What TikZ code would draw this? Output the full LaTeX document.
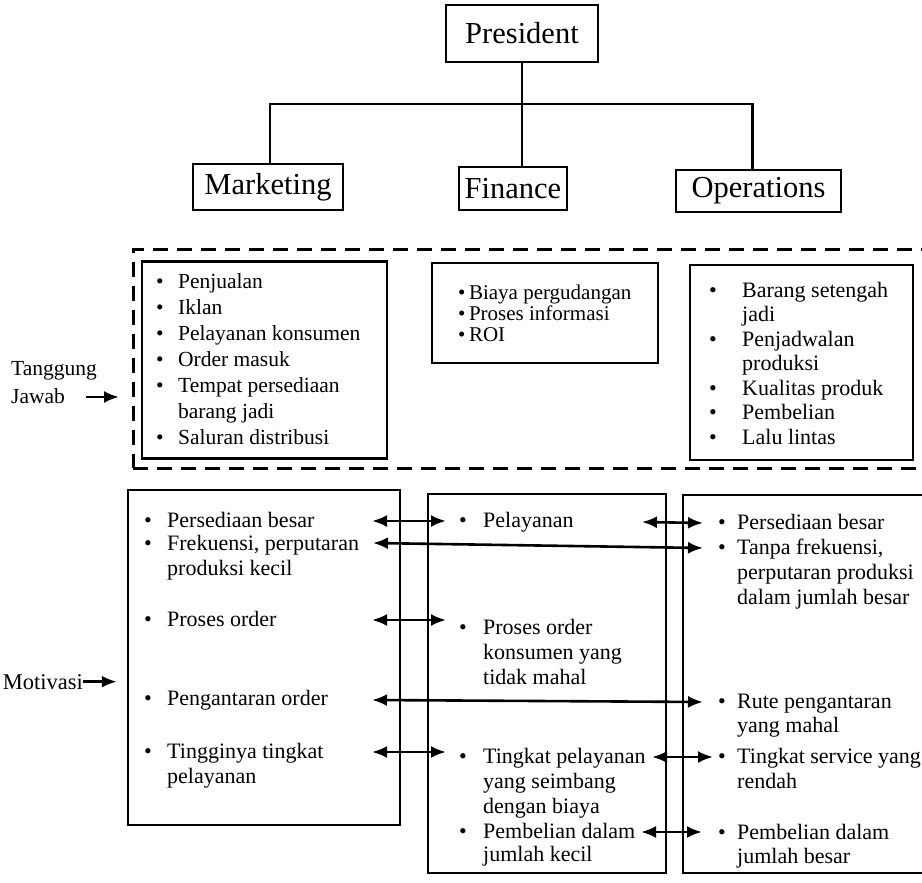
\documentclass[tikz,border=0pt]{standalone}
\usepackage{fontspec}
\setmainfont{Liberation Serif}
\usetikzlibrary{arrows.meta}
% bulleted list: #1 = width of the bullet column, #2 = rows "\bu & text\\ & more"
\newcommand\blist[2]{\begin{tabular}[t]{@{}p{#1}@{}l@{}}#2\end{tabular}}
\newcommand\bu{\textbullet}
\begin{document}
\begin{tikzpicture}[x=1pt,y=-1pt,
  box/.style={draw,line width=2.5pt,inner sep=0pt},
  head/.style={box,font=\fontsize{30.5}{34}\selectfont},
  frame/.style={draw,line width=3pt,dash pattern=on 15pt off 9pt,inner sep=0pt},
  lst/.style={anchor=base west,inner sep=0pt,font=\fontsize{22}{25}\selectfont},
  lbl/.style={inner sep=0pt,font=\fontsize{21.5}{28}\selectfont},
  link/.style={line width=2.5pt},
  dbl/.style={line width=2.6pt,{Latex[length=15pt,width=12pt]}-{Latex[length=15pt,width=12pt]}},
  one/.style={line width=2.6pt,-{Latex[length=15pt,width=12pt]}}
]
\useasboundingbox (0,0) rectangle (922,883);
\clip (0,0) rectangle (922,883);

% --- organisation chart ---
\node[head,minimum width=152pt,minimum height=57pt] (pres) at (522,33.5) {President};
\node[head,minimum width=150pt,minimum height=46pt] (mkt) at (268,187) {Marketing};
\node[head,minimum width=108pt,minimum height=43pt] (fin) at (513,188.5) {Finance};
\node[head,minimum width=165pt,minimum height=42pt] (ops) at (758.5,191) {Operations};
\coordinate (bus) at (522,104);
\draw[link] (pres.south) -- (pres.south |- fin.north);
\draw[link] ([xshift=2pt]mkt.north) |- (bus) -| ([xshift=-6pt]ops.north);

% --- responsibilities ---
\node[frame,minimum width=820pt,minimum height=219pt] (resp) at (543,358.5) {};
\node[box,minimum width=245pt,minimum height=197pt] (mresp) at (264.5,360) {};
\node[box,minimum width=226pt,minimum height=100pt] (fresp) at (545,313) {};
\node[box,minimum width=223pt,minimum height=195pt] (oresp) at (801.5,362.5) {};

\node[lst,font=\fontsize{21.5}{26}\selectfont] (mr) at (156,288) {\blist{22pt}{\bu & Penjualan\\ \bu & Iklan\\ \bu & Pelayanan konsumen\\ \bu & Order masuk\\ \bu & Tempat persediaan\\ & barang jadi\\ \bu & Saluran distribusi}};
\node[lst,font=\fontsize{21}{21}\selectfont] (fr) at (458,299) {\begin{tabular}[t]{@{}l@{}}\bu\,Biaya pergudangan\\ \bu\,Proses informasi\\ \bu\,ROI\end{tabular}};
\node[lst,font=\fontsize{22}{24.5}\selectfont] (or) at (709,297) {\blist{33pt}{\bu & Barang setengah\\ & jadi\\ \bu & Penjadwalan\\ & produksi\\ \bu & Kualitas produk\\ \bu & Pembelian\\ \bu & Lalu lintas}};

% the base anchor of this two-line label sits on its last line
\node[lbl,anchor=base west,align=left] (tj) at (11,403) {Tanggung\\Jawab};
\coordinate (tjtail) at (86,397);
\coordinate (tjtip) at (119,397);
\draw[one] (tjtail) -- (tjtip);

% --- motivation ---
\node[box,minimum width=272pt,minimum height=335pt] (mmot) at (264,657.5) {};
\node[box,minimum width=238pt,minimum height=379pt] (fmot) at (547,683.5) {};
\node[box,minimum width=250pt,minimum height=378pt] (omot) at (808,684) {};

\node[lbl,anchor=base east,font=\fontsize{22.5}{26}\selectfont] (motiv) at (83,689) {Motivasi};
\draw[one] (motiv.east) -- ([xshift=-10pt]mmot.west |- motiv.east);

% marketing column
\node[lst] (m1) at (144,527) {\blist{23pt}{\bu & Persediaan besar}};
\node[lst] (m2) at (144,550) {\blist{23pt}{\bu & Frekuensi, perputaran\\ & produksi kecil}};
\node[lst] (m3) at (144,626) {\blist{23pt}{\bu & Proses order}};
\node[lst] (m4) at (144,705) {\blist{23pt}{\bu & Pengantaran order}};
\node[lst] (m5) at (144,758) {\blist{23pt}{\bu & Tingginya tingkat\\ & pelayanan}};

% finance column
\node[lst] (f1) at (459,527) {\blist{24pt}{\bu & Pelayanan}};
\node[lst] (f2) at (459,634) {\blist{24pt}{\bu & Proses order\\ & konsumen yang\\ & tidak mahal}};
\node[lst] (f3) at (459,763) {\blist{24pt}{\bu & Tingkat pelayanan\\ & yang seimbang\\ & dengan biaya}};
\node[lst,font=\fontsize{22}{23.5}\selectfont] (f4) at (459,838) {\blist{24pt}{\bu & Pembelian dalam\\ & jumlah kecil}};

% operations column
\node[lst] (o1) at (718,529) {\blist{19pt}{\bu & Persediaan besar}};
\node[lst] (o2) at (718,554) {\blist{19pt}{\bu & Tanpa frekuensi,\\ & perputaran produksi\\ & dalam jumlah besar}};
\node[lst,font=\fontsize{22}{24}\selectfont] (o3) at (718,708) {\blist{19pt}{\bu & Rute pengantaran\\ & yang mahal}};
\node[lst] (o4) at (718,763) {\blist{19pt}{\bu & Tingkat service yang\\ & rendah}};
\node[lst,font=\fontsize{22}{24}\selectfont] (o5) at (718,839) {\blist{19pt}{\bu & Pembelian dalam\\ & jumlah besar}};

% links between the columns
\coordinate (a1l) at (372,521); \coordinate (a1r) at (446,521);
\coordinate (a2l) at (642,522); \coordinate (a2r) at (703,523);
\coordinate (a3l) at (373,543); \coordinate (a3r) at (703,548);
\coordinate (a4l) at (372,620); \coordinate (a4r) at (446,620);
\coordinate (a5l) at (372,700); \coordinate (a5r) at (703,702);
\coordinate (a6l) at (372,752); \coordinate (a6r) at (446,752);
\coordinate (a7l) at (652,757); \coordinate (a7r) at (713,757);
\coordinate (a8l) at (641,832); \coordinate (a8r) at (702,832);
\foreach \k in {1,...,8} {\draw[dbl] (a\k l) -- (a\k r);}
\end{tikzpicture}
\end{document}
